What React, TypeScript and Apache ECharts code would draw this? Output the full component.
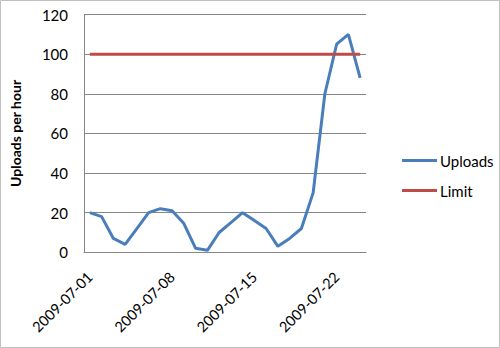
import React, { useEffect, useRef } from "react";
import * as echarts from "echarts";

const categories = [
  "2009-07-01", "2009-07-02", "2009-07-03", "2009-07-04", "2009-07-05", "2009-07-06",
  "2009-07-07", "2009-07-08", "2009-07-09", "2009-07-10", "2009-07-11", "2009-07-12",
  "2009-07-13", "2009-07-14", "2009-07-15", "2009-07-16", "2009-07-17", "2009-07-18",
  "2009-07-19", "2009-07-20", "2009-07-21", "2009-07-22", "2009-07-23", "2009-07-24",
];
const uploads = [20, 18, 7, 4, 12, 20, 22, 21, 14.5, 2, 1, 10, 15, 20, 16, 12, 3, 7, 12, 30, 80, 105, 110, 88];
const limit = [100, 100, 100, 100, 100, 100, 100, 100, 100, 100, 100, 100, 100, 100, 100, 100, 100, 100, 100, 100, 100, 100, 100, 100];
const yTicks = { min: 0, max: 120, interval: 20 };

const FONT = "Lato, 'Open Sans', sans-serif";

export default function App() {
  const ref = useRef<HTMLDivElement>(null);
  useEffect(() => {
    if (!ref.current) return;
    const chart = echarts.init(ref.current, undefined, { renderer: "svg" });
    chart.setOption({
      animation: false,
      backgroundColor: "#ffffff",
      textStyle: { fontFamily: FONT },
      graphic: [
        {
          type: "rect",
          shape: { x: 0.5, y: 0.5, width: 499, height: 347 },
          style: { fill: "none", stroke: "#c0c0c0", lineWidth: 1 },
          silent: true,
        },
      ],
      grid: { left: 80, right: 134, top: 14.5, bottom: 95.7 },
      legend: {
        orient: "vertical",
        left: 397,
        top: 148,
        itemWidth: 35,
        itemHeight: 3,
        itemGap: 15,
        icon: "rect",
        textStyle: { fontFamily: FONT, fontSize: 15, color: "#000", padding: [0, 0, 0, -2] },
        data: ["Uploads", "Limit"],
      },
      xAxis: {
        type: "category",
        data: categories,
        boundaryGap: true,
        axisLine: { show: true, lineStyle: { color: "#868686", width: 1 } },
        axisTick: { show: false },
        axisLabel: {
          interval: 6,
          rotate: 45,
          margin: 22,
          fontFamily: FONT,
          fontSize: 14.5,
          color: "#000",
        },
        splitLine: { show: false },
      },
      yAxis: {
        type: "value",
        min: yTicks.min,
        max: yTicks.max,
        interval: yTicks.interval,
        name: "Uploads per hour",
        nameLocation: "middle",
        nameGap: 62,
        nameTextStyle: { fontFamily: FONT, fontSize: 14, fontWeight: "bold", color: "#000" },
        axisLine: { show: true, lineStyle: { color: "#868686", width: 1 } },
        axisTick: { show: false },
        axisLabel: { margin: 16, fontFamily: FONT, fontSize: 15, color: "#000" },
        splitLine: { show: true, lineStyle: { color: "#868686", width: 1 } },
      },
      series: [
        {
          name: "Uploads",
          type: "line",
          data: uploads,
          symbol: "none",
          lineStyle: { color: "#4A7EBB", width: 3 },
          itemStyle: { color: "#4A7EBB" },
        },
        {
          name: "Limit",
          type: "line",
          data: limit,
          symbol: "none",
          lineStyle: { color: "#BE4B48", width: 3 },
          itemStyle: { color: "#BE4B48" },
        },
      ],
    });
    return () => chart.dispose();
  }, []);
  return (
    <div
      ref={ref}
      style={{ position: "absolute", left: 0, top: 0, width: 500, height: 348 }}
    />
  );
}
